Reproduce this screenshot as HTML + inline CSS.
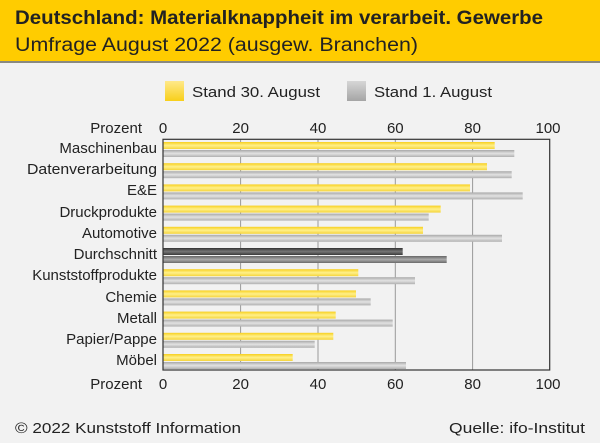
<!DOCTYPE html><html><head><meta charset="utf-8"><style>body{margin:0}svg{display:block;font-family:"Liberation Sans",sans-serif}</style></head><body>
<svg width="600" height="443" viewBox="0 0 600 443" xmlns="http://www.w3.org/2000/svg">
<defs>
<linearGradient id="y" x1="0" y1="0" x2="0" y2="1"><stop offset="0" stop-color="#f7cf1e"/><stop offset=".5" stop-color="#fff08a"/><stop offset="1" stop-color="#f5d43a"/></linearGradient>
<linearGradient id="g" x1="0" y1="0" x2="0" y2="1"><stop offset="0" stop-color="#a8a8a8"/><stop offset=".5" stop-color="#e2e2e2"/><stop offset="1" stop-color="#b0b0b0"/></linearGradient>
<linearGradient id="d" x1="0" y1="0" x2="0" y2="1"><stop offset="0" stop-color="#333"/><stop offset=".5" stop-color="#777"/><stop offset="1" stop-color="#3a3a3a"/></linearGradient>
<linearGradient id="d2" x1="0" y1="0" x2="0" y2="1"><stop offset="0" stop-color="#666"/><stop offset=".5" stop-color="#aaa"/><stop offset="1" stop-color="#6a6a6a"/></linearGradient>
<linearGradient id="ly" x1="0" y1="0" x2="0" y2="1"><stop offset="0" stop-color="#ffe98a"/><stop offset="1" stop-color="#f8cf1a"/></linearGradient>
<linearGradient id="lg" x1="0" y1="0" x2="0" y2="1"><stop offset="0" stop-color="#d6d6d6"/><stop offset="1" stop-color="#a5a5a5"/></linearGradient>
</defs>
<rect width="600" height="443" fill="#f2f2f2"/>
<rect width="600" height="61" fill="#ffcc00"/>
<rect y="61" width="600" height="2" fill="#8a8a80"/>
<text x="15" y="24" font-size="19" font-weight="bold" fill="#222" textLength="528" lengthAdjust="spacingAndGlyphs">Deutschland: Materialknappheit im verarbeit. Gewerbe</text>
<text x="15" y="51" font-size="19" fill="#222" textLength="403" lengthAdjust="spacingAndGlyphs">Umfrage August 2022 (ausgew. Branchen)</text>
<rect x="165" y="81" width="19" height="20" fill="url(#ly)"/>
<text x="192" y="97" font-size="15" fill="#222" textLength="128" lengthAdjust="spacingAndGlyphs">Stand 30. August</text>
<rect x="347" y="81" width="19" height="20" fill="url(#lg)"/>
<text x="374" y="97" font-size="15" fill="#222" textLength="118" lengthAdjust="spacingAndGlyphs">Stand 1. August</text>
<g font-size="15" fill="#222" text-anchor="middle">
<text x="163" y="133">0</text><text x="240.6" y="133">20</text><text x="318" y="133">40</text><text x="395.3" y="133">60</text><text x="472.6" y="133">80</text><text x="548" y="133">100</text>
<text x="163" y="389">0</text><text x="240.6" y="389">20</text><text x="318" y="389">40</text><text x="395.3" y="389">60</text><text x="472.6" y="389">80</text><text x="548" y="389">100</text>
</g>
<g font-size="15" fill="#222" text-anchor="end">
<text x="142" y="133">Prozent</text><text x="142" y="389">Prozent</text>
<text x="157" y="153">Maschinenbau</text>
<text x="157" y="174" textLength="130" lengthAdjust="spacingAndGlyphs">Datenverarbeitung</text>
<text x="157" y="195">E&amp;E</text>
<text x="157" y="217">Druckprodukte</text>
<text x="157" y="238">Automotive</text>
<text x="157" y="259">Durchschnitt</text>
<text x="157" y="280">Kunststoffprodukte</text>
<text x="157" y="302">Chemie</text>
<text x="157" y="323">Metall</text>
<text x="157" y="344">Papier/Pappe</text>
<text x="157" y="365">Möbel</text>
</g>
<g stroke="#999" stroke-width="1">
<line x1="240.6" y1="139" x2="240.6" y2="370"/><line x1="318" y1="139" x2="318" y2="370"/><line x1="395.3" y1="139" x2="395.3" y2="370"/><line x1="472.6" y1="139" x2="472.6" y2="370"/>
</g>
<g>
<rect x="163" y="142" width="331.7" height="7" fill="url(#y)"/><rect x="163" y="150" width="351.3" height="7" fill="url(#g)"/>
<rect x="163" y="163.2" width="324" height="7" fill="url(#y)"/><rect x="163" y="171.2" width="348.7" height="7" fill="url(#g)"/>
<rect x="163" y="184.4" width="307" height="7" fill="url(#y)"/><rect x="163" y="192.4" width="359.7" height="7" fill="url(#g)"/>
<rect x="163" y="205.6" width="277.7" height="7" fill="url(#y)"/><rect x="163" y="213.6" width="265.7" height="7" fill="url(#g)"/>
<rect x="163" y="226.8" width="260" height="7" fill="url(#y)"/><rect x="163" y="234.8" width="339" height="7" fill="url(#g)"/>
<rect x="163" y="248" width="239.7" height="7" fill="url(#d)"/><rect x="163" y="256" width="283.7" height="7" fill="url(#d2)"/>
<rect x="163" y="269.2" width="195.3" height="7" fill="url(#y)"/><rect x="163" y="277.2" width="252" height="7" fill="url(#g)"/>
<rect x="163" y="290.4" width="193" height="7" fill="url(#y)"/><rect x="163" y="298.4" width="207.7" height="7" fill="url(#g)"/>
<rect x="163" y="311.6" width="172.7" height="7" fill="url(#y)"/><rect x="163" y="319.6" width="229.7" height="7" fill="url(#g)"/>
<rect x="163" y="332.8" width="170.3" height="7" fill="url(#y)"/><rect x="163" y="340.8" width="151.7" height="7" fill="url(#g)"/>
<rect x="163" y="354" width="129.7" height="7" fill="url(#y)"/><rect x="163" y="362" width="243" height="7" fill="url(#g)"/>
</g>
<rect x="163" y="139.3" width="386.7" height="230.7" fill="none" stroke="#333" stroke-width="1.2"/>
<text x="15" y="433" font-size="15" fill="#222" textLength="226" lengthAdjust="spacingAndGlyphs">© 2022 Kunststoff Information</text>
<text x="585" y="433" font-size="15" fill="#222" text-anchor="end" textLength="136" lengthAdjust="spacingAndGlyphs">Quelle: ifo-Institut</text>
</svg>
</body></html>
